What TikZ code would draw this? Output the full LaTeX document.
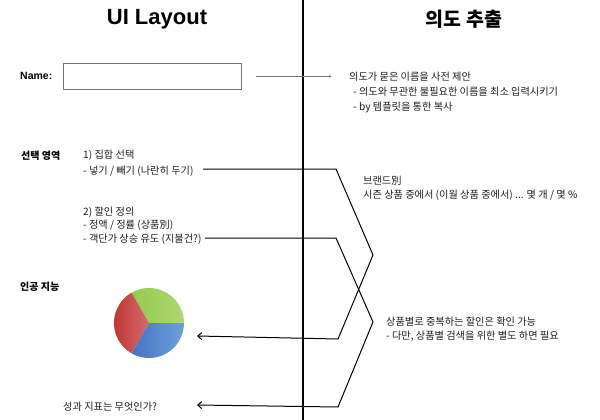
\documentclass[tikz,border=0pt]{standalone}
\usepackage{fontspec}
\setmainfont{Liberation Sans}
\newfontfamily\kr{Noto Sans CJK KR}
\usetikzlibrary{arrows.meta}
\definecolor{txtgray}{HTML}{1E1E1E}
\definecolor{gA}{HTML}{8CC446}
\definecolor{gB}{HTML}{B0D872}
\definecolor{rA}{HTML}{BD3636}
\definecolor{rB}{HTML}{D66C6C}
\definecolor{bA}{HTML}{4472C2}
\definecolor{bB}{HTML}{70A0DA}
\begin{document}
\begin{tikzpicture}[x=1pt,y=-1pt,
  txt/.style={anchor=west, inner sep=0pt, text=txtgray, font=\kr\fontsize{10.2}{12}\selectfont},
  lbl/.style={anchor=west, inner sep=0pt, font=\kr\bfseries\fontsize{10}{12}\selectfont},
  conn/.style={line width=1pt, -{Straight Barb[length=4pt,width=7pt]}},
  title/.style={inner sep=0pt, font=\bfseries\fontsize{22}{26}\selectfont}]
\useasboundingbox (0,0) rectangle (600,420);
% divider
\coordinate (dtop) at (303,0);
\coordinate (dbot) at (303,420);
\draw[line width=1.2pt] (dtop) -- (dbot);
% titles
\node[title] (t1) at (157,19) {UI Layout};
\node[title, font=\kr\bfseries\fontsize{19.5}{23}\selectfont] (t2) at (464,19) {의도 추출};
% name field
\node[anchor=west, inner sep=0pt, font=\bfseries\fontsize{10.5}{12}\selectfont] (name) at (20,76) {Name:};
\node[draw=black!55, line width=0.8pt, minimum width=178pt, minimum height=26pt, inner sep=0pt, anchor=north west] (box) at (63,63) {};
% intent text
\node[txt] (i1) at (349,77) {의도가 묻은 이름을 사전 제안};
\node[txt] (i2) at (353,92) {- 의도와 무관한 불필요한 이름을 최소 입력시키기};
\node[txt] (i3) at (353,107) {- by 템플릿을 통한 복사};
\draw[black!55, line width=0.5pt, -{Latex[length=3pt,width=2.5pt]}, shorten >=17pt] ([xshift=14pt]box.east) -- (box.east -| i1.west);
% selection area
\node[lbl] (sel) at (21,156) {선택 영역};
\node[txt] (s1) at (83,155) {1) 집합 선택};
\node[txt] (s2) at (83,171) {- 넣기 / 빼기 (나란히 두기)};
\node[txt] (d1) at (83,212) {2) 할인 정의};
\node[txt] (d2) at (83,225) {- 정액 / 정률 (상품別)};
\node[txt] (d3) at (83,239) {- 객단가 상승 유도 (지불건?)};
% AI
\node[lbl] (ai) at (20,287) {인공 지능};
\node[txt] (kpi) at (63,407) {성과 지표는 무엇인가?};
% right side text
\node[txt] (b1) at (363,181) {브랜드別};
\node[txt] (b2) at (363,195) {시즌 상품 중에서 (이월 상품 중에서) ... 몇 개 / 몇 \%};
\node[txt] (c1) at (386,322) {상품별로 중복하는 할인은 확인 가능};
\node[txt] (c2) at (386,336) {- 다만, 상품별 검색을 위한 별도 하면 필요};
% pie
\coordinate (pie) at (149,323);
\begin{scope}
  \clip (pie) -- ++(0:35) arc[start angle=0, end angle=-120, radius=35] -- cycle;
  \shade[left color=gA, right color=gB] (114,285) rectangle (185,324);
\end{scope}
\begin{scope}
  \clip (pie) -- ++(-120:35) arc[start angle=-120, end angle=-240, radius=35] -- cycle;
  \shade[left color=rA, right color=rB] (113,285) rectangle (150,360);
\end{scope}
\begin{scope}
  \clip (pie) -- ++(120:35) arc[start angle=120, end angle=0, radius=35] -- cycle;
  \shade[left color=bA, right color=bB] (130,322) rectangle (185,360);
\end{scope}
% connectors
\coordinate (p1s) at (203,169);
\coordinate (p1a) at (336,169);
\coordinate (p1b) at (373,255);
\coordinate (p1c) at (338,339);
\coordinate (p1e) at (197,336);
\coordinate (p2s) at (205,238);
\coordinate (p2a) at (336,238);
\coordinate (p2b) at (373,322);
\coordinate (p2c) at (338,407);
\coordinate (p2e) at (197,405);
\draw[conn] (p1s) -- (p1a) -- (p1b) -- (p1c) -- (p1e);
\draw[conn] (p2s) -- (p2a) -- (p2b) -- (p2c) -- (p2e);
\end{tikzpicture}
\end{document}
